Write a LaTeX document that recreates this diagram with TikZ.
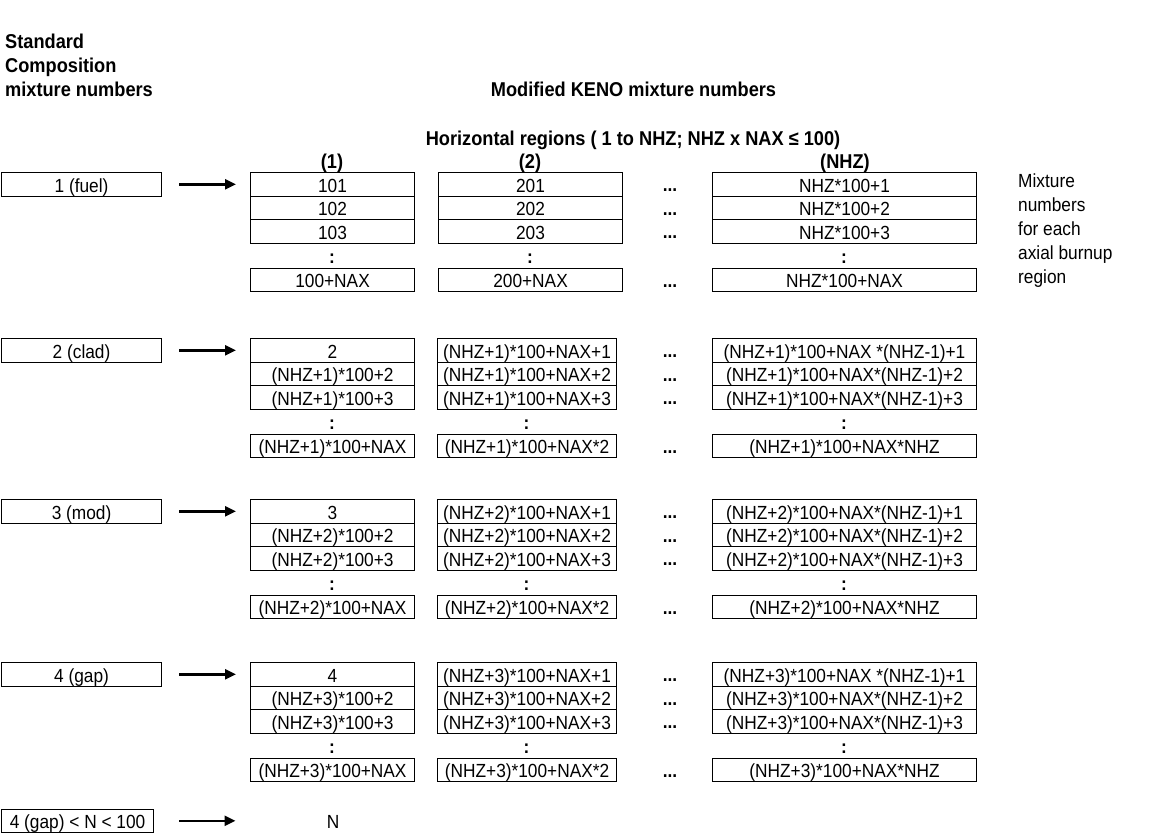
\documentclass[tikz,border=0pt]{standalone}
\usepackage{fontspec}
\setmainfont{Liberation Sans}[FakeStretch=0.91]
\usetikzlibrary{arrows.meta}
\newcommand\mixfont{\fontsize{19pt}{24pt}\selectfont}
\newcommand\hdrfont{\fontsize{20pt}{24pt}\selectfont\bfseries}
\tikzset{
  cell/.style={draw, line width=1.1pt, anchor=north west, minimum height=23.5pt,
    inner xsep=0pt, inner ysep=2pt, text height=17.5pt, text depth=2pt},
  txt/.style={anchor=base, inner sep=0pt},
  hdr/.style={inner sep=0pt, font=\hdrfont},
  dotsn/.style={anchor=base, inner sep=0pt, font=\mixfont\bfseries},
  arr/.style={line width=2.4pt, -{Triangle[length=11pt,width=10pt]}}
}
% name, x, top, width, four texts
\newcommand\colbox[8]{%
  \node[cell, minimum width=#4pt] (#1r1) at (#2,#3) {#5};
  \node[cell, minimum width=#4pt] (#1r2) at (#2,#3+23.5) {#6};
  \node[cell, minimum width=#4pt] (#1r3) at (#2,#3+47) {#7};
  \node[txt, font=\mixfont\bfseries] (#1c) at (#2+#4/2,#3+91) {:};
  \node[cell, minimum width=#4pt] (#1r4) at (#2,#3+95.5) {#8};
}
% name, top
\newcommand\dotcol[2]{%
  \node[dotsn] (#1a) at (670,#2+19.5) {...};
  \node[dotsn] (#1b) at (670,#2+43) {...};
  \node[dotsn] (#1c) at (670,#2+66.5) {...};
  \node[dotsn] (#1d) at (670,#2+115) {...};
}
\begin{document}
\begin{tikzpicture}[x=1pt, y=-1pt, font=\mixfont]
\fill[white] (0,0) rectangle (1156,833);
\useasboundingbox (0,0) rectangle (1156,833);

% headers
\node[hdr, anchor=north west, align=left] (hstd) at (5,33.5) {Standard\\Composition\\mixture numbers};
\node[hdr, anchor=base] (hkeno) at (633.5,96.5) {Modified KENO mixture numbers};
\node[hdr, anchor=base] (hhor) at (633,145.5) {Horizontal regions ( 1 to NHZ; NHZ x NAX ≤ 100)};
\node[hdr, anchor=base] (h1) at (332,168) {(1)};
\node[hdr, anchor=base] (h2) at (530,168) {(2)};
\node[hdr, anchor=base] (hn) at (845,168) {(NHZ)};
\node[anchor=north west, align=left, inner sep=0pt] (mixlab) at (1018,174) {Mixture\\numbers\\for each\\axial burnup\\region};

% block 1 (fuel)
\node[cell, minimum width=160pt] (s1) at (1,172) {1 (fuel)};
\colbox{ka}{250}{172}{164}{101}{102}{103}{100+NAX}
\colbox{kb}{438}{172}{184}{201}{202}{203}{200+NAX}
\dotcol{da}{172}
\colbox{kc}{712}{172}{264}{NHZ*100+1}{NHZ*100+2}{NHZ*100+3}{NHZ*100+NAX}
\draw[arr, shorten <=17pt, shorten >=14pt] (s1.east) -- (kar1.west);

% block 2 (clad)
\node[cell, minimum width=160pt] (s2) at (1,338) {2 (clad)};
\colbox{la}{250}{338}{164}{2}{(NHZ+1)*100+2}{(NHZ+1)*100+3}{(NHZ+1)*100+NAX}
\colbox{lb}{437}{338}{179}{(NHZ+1)*100+NAX+1}{(NHZ+1)*100+NAX+2}{(NHZ+1)*100+NAX+3}{(NHZ+1)*100+NAX*2}
\dotcol{db}{338}
\colbox{lc}{712}{338}{264}{(NHZ+1)*100+NAX *(NHZ-1)+1}{(NHZ+1)*100+NAX*(NHZ-1)+2}{(NHZ+1)*100+NAX*(NHZ-1)+3}{(NHZ+1)*100+NAX*NHZ}
\draw[arr, shorten <=17pt, shorten >=14pt] (s2.east) -- (lar1.west);

% block 3 (mod)
\node[cell, minimum width=160pt] (s3) at (1,499) {3 (mod)};
\colbox{ma}{250}{499}{164}{3}{(NHZ+2)*100+2}{(NHZ+2)*100+3}{(NHZ+2)*100+NAX}
\colbox{mb}{437}{499}{179}{(NHZ+2)*100+NAX+1}{(NHZ+2)*100+NAX+2}{(NHZ+2)*100+NAX+3}{(NHZ+2)*100+NAX*2}
\dotcol{dc}{499}
\colbox{mc}{712}{499}{264}{(NHZ+2)*100+NAX*(NHZ-1)+1}{(NHZ+2)*100+NAX*(NHZ-1)+2}{(NHZ+2)*100+NAX*(NHZ-1)+3}{(NHZ+2)*100+NAX*NHZ}
\draw[arr, shorten <=17pt, shorten >=14pt] (s3.east) -- (mar1.west);

% block 4 (gap)
\node[cell, minimum width=160pt] (s4) at (1,662) {4 (gap)};
\colbox{na}{250}{662}{164}{4}{(NHZ+3)*100+2}{(NHZ+3)*100+3}{(NHZ+3)*100+NAX}
\colbox{nb}{437}{662}{179}{(NHZ+3)*100+NAX+1}{(NHZ+3)*100+NAX+2}{(NHZ+3)*100+NAX+3}{(NHZ+3)*100+NAX*2}
\dotcol{dd}{662}
\colbox{nc}{712}{662}{264}{(NHZ+3)*100+NAX *(NHZ-1)+1}{(NHZ+3)*100+NAX*(NHZ-1)+2}{(NHZ+3)*100+NAX*(NHZ-1)+3}{(NHZ+3)*100+NAX*NHZ}
\draw[arr, shorten <=17pt, shorten >=14pt] (s4.east) -- (nar1.west);

% other mixtures
\node[cell, minimum width=152pt] (s5) at (1,808.5) {4 (gap) < N < 100};
\node[txt] (nN) at (333,828) {N};
\draw[arr, shorten <=25pt, shorten >=91pt] (s5.east) -- (s5.east -| nN.west);
\end{tikzpicture}
\end{document}
